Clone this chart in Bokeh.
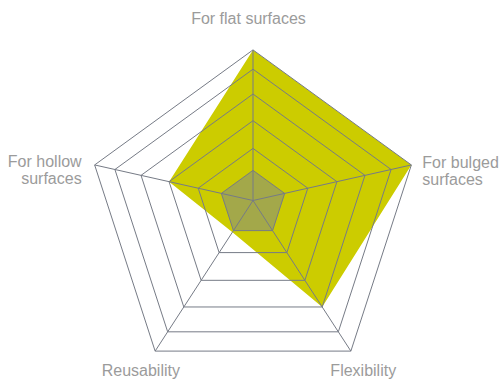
import numpy as np
from bokeh.plotting import figure
from bokeh.models import ColumnDataSource, Range1d
from bokeh.embed import file_html
from bokeh.resources import INLINE
from bokeh.core.properties import value

# ---- data ----
categories = ["For flat surfaces", "For bulged surfaces", "Flexibility",
              "Reusability", "For hollow surfaces"]
label_text = ["For flat surfaces", "For bulged\nsurfaces", "Flexibility",
              "Reusability", "For hollow\nsurfaces"]
series_main = [1.0, 1.0, 0.707, 0.21, 0.53]      # yellow series (share of full scale)
series_base = [0.2, 0.2, 0.2, 0.2, 0.2]          # grey series
ring_levels = [0.346, 0.53, 0.707, 0.872, 1.0]   # grid rings

# ---- layout ----
W, H = 501, 380
CX, CY = 252.5, 200.0          # page pixel position of the centre
R = 166.5                      # pentagon radius in px
C = (1 - np.cos(np.radians(36))) / 2   # centre sits at the middle of the pentagon's box

n = len(categories)
theta = np.radians(90 - 72 * np.arange(n))
ux = R * np.cos(theta)
uy = R * (np.sin(theta) - C)


def poly(vals):
    v = np.asarray(vals, dtype=float)
    return list(v * ux), list(v * uy)


p = figure(width=W, height=H, output_backend="svg", toolbar_location=None,
           x_range=Range1d(-CX, W - CX), y_range=Range1d(CY - H, CY),
           min_border=0)
p.axis.visible = False
p.grid.visible = False
p.outline_line_color = None
p.background_fill_color = "white"
p.border_fill_color = "white"

GRID = "#767b86"

# yellow series
mx, my = poly(series_main)
p.patch(mx, my, fill_color="#cccc00", line_color=None)

# grey series fill
bx, by = poly(series_base)
p.patch(bx, by, fill_color="#7a8494", fill_alpha=0.5, line_color=None)

# grid rings
rxs, rys = [], []
for lv in ring_levels:
    x, y = poly([lv] * n)
    rxs.append(x + [x[0]])
    rys.append(y + [y[0]])
p.multi_line(rxs, rys, line_color=GRID, line_width=1)

# spokes
sx = [[0, ux[i]] for i in range(n)]
sy = [[0, uy[i]] for i in range(n)]
p.multi_line(sx, sy, line_color=GRID, line_width=1)

# grey series outline
p.line(bx + [bx[0]], by + [by[0]], line_color=GRID, line_width=1)

# category labels (anchored at outer vertices with pixel offsets)
lab = ColumnDataSource(dict(
    x=list(ux), y=list(uy), text=label_text,
    xo=[-4.5, 11, 12.4, -14.3, -13],
    yo=[-31.5, 6.5, 19.5, 19.5, 5.5],
    align=["center", "left", "center", "center", "right"],
))
p.text(x="x", y="y", text="text", x_offset="xo", y_offset="yo", source=lab,
       text_align="align", text_baseline="alphabetic",
       text_font=value("Liberation Sans"), text_font_size="16px",
       text_color="#9b9b9b", text_line_height=1.0)

open("out.html", "w").write(file_html(p, INLINE))
